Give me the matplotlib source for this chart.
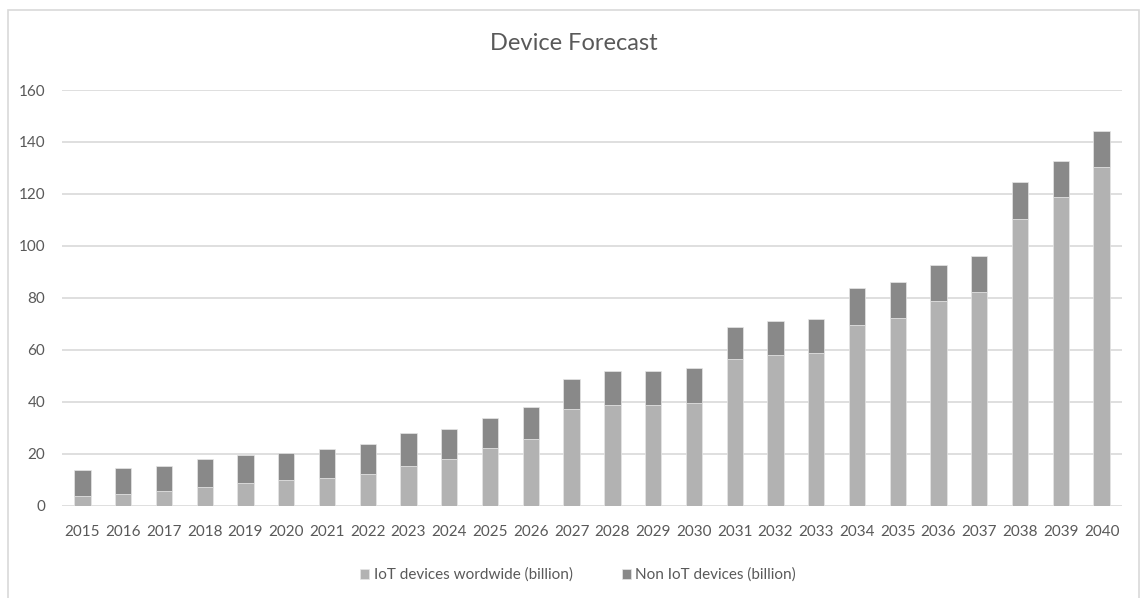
import matplotlib
matplotlib.use("Agg")
import matplotlib.pyplot as plt
from matplotlib.patches import Rectangle

years = [str(y) for y in range(2015, 2041)]
iot = [3.6, 4.6, 5.5, 7.1, 8.7, 9.7, 10.5, 12.1, 15.4, 17.9, 22.1, 25.5, 37.1,
       38.8, 38.8, 39.7, 56.3, 58.0, 58.9, 69.6, 72.1, 78.7, 82.1, 110.4, 118.7, 130.4]
non_iot = [10.1, 10.0, 9.8, 10.8, 10.7, 10.6, 11.5, 11.6, 12.5, 11.6, 11.5, 12.4, 11.5,
           13.2, 13.2, 13.2, 12.4, 13.2, 13.1, 14.1, 14.0, 14.1, 14.0, 14.1, 14.1, 14.0]
series_names = ["IoT devices wordwide (billion)", "Non IoT devices (billion)"]
title = "Device Forecast"
yticks = [0, 20, 40, 60, 80, 100, 120, 140, 160]

plt.rcParams['font.family'] = ['Lato', 'DejaVu Sans']
W, H = 1141, 598
fig = plt.figure(figsize=(W / 100, H / 100), dpi=100)

# outer chart border
fig.patches.append(Rectangle((8 / W, -0.05), (1139 - 8) / W, 1 - 10 / H + 0.05,
                             transform=fig.transFigure, fill=False,
                             edgecolor="#d9d9d9", linewidth=1.2))

ax = fig.add_axes([62 / W, 1 - 505.7 / H, (1122 - 62) / W, (505.7 - 90) / H])
x = list(range(len(years)))
c1, c2 = "#b2b2b2", "#898989"
ax.bar(x, iot, width=0.4, color=c1, edgecolor="#e6e6e6", linewidth=0.5,
       label=series_names[0], zorder=3)
ax.bar(x, non_iot, width=0.4, bottom=iot, color=c2, edgecolor="#e6e6e6",
       linewidth=0.5, label=series_names[1], zorder=3)

ax.set_xlim(-0.5, len(years) - 0.5)
ax.set_ylim(0, 160)
ax.set_yticks(yticks)
ax.set_xticks(x)
ax.set_xticklabels(years)
ax.yaxis.grid(True, color="#d9d9d9", linewidth=1.2, zorder=0)
ax.set_axisbelow(True)
for s in ax.spines.values():
    s.set_visible(False)
ax.tick_params(axis="both", length=0, colors="#595959", labelsize=11)
ax.tick_params(axis="y", pad=12)
ax.tick_params(axis="x", pad=14)

fig.text(574 / W, 1 - 44 / H, title, ha="center", va="center",
         fontsize=17, color="#595959")

leg = fig.legend(loc="center", bbox_to_anchor=(578 / W, 1 - 575 / H), ncol=2,
                 frameon=False, fontsize=11, handlelength=0.6, handleheight=0.6,
                 handletextpad=0.3, columnspacing=3.2)
for t in leg.get_texts():
    t.set_color("#595959")

fig.savefig("out.png", dpi=100, facecolor="white")
